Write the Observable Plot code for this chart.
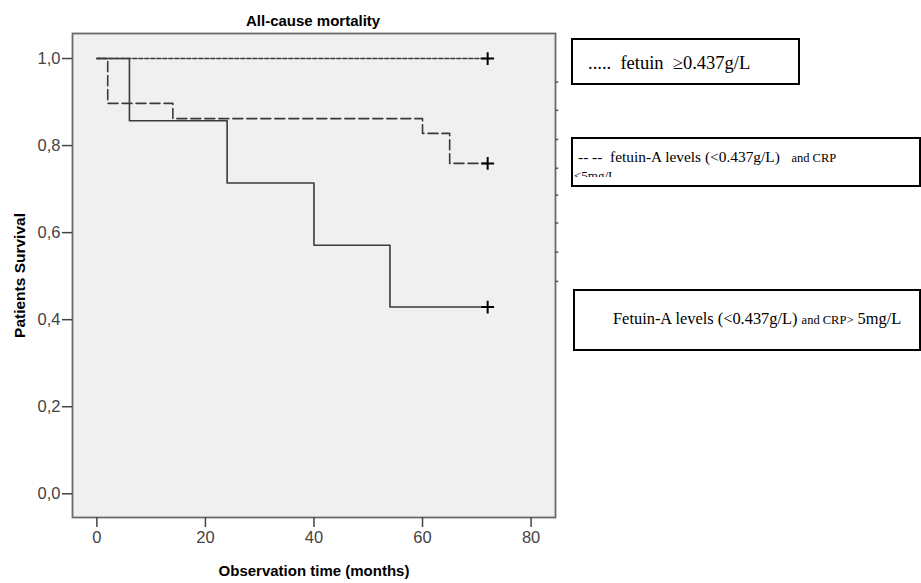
<!DOCTYPE html>
<html>
<head>
<meta charset="utf-8">
<script src="https://cdn.jsdelivr.net/npm/d3@7"></script>
<script src="https://cdn.jsdelivr.net/npm/@observablehq/plot@0.6"></script>
<style>
  html, body { margin: 0; padding: 0; background: #ffffff; }
  #wrap { position: relative; width: 921px; height: 583px; overflow: hidden; background: #fff; }
  #chart { position: absolute; left: 0; top: 0; }
  .title { position: absolute; font-family: "Liberation Sans", Arial, sans-serif; font-weight: bold; font-size: 15px; line-height: 1; color: #000; white-space: nowrap; }
  .box { position: absolute; box-sizing: border-box; border: 2px solid #000; background: #fff; }
  .lt { position: absolute; font-family: "Liberation Serif", "Times New Roman", serif; line-height: 1; color: #000; white-space: pre; }
  .clip { position: absolute; overflow: hidden; }
</style>
</head>
<body>
<div id="wrap">
  <div id="chart"></div>
  <div class="title" id="title">All-cause mortality</div>

  <div class="box" style="left:571px; top:38px; width:229px; height:47px;"></div>
  <div class="lt" style="left:588px; top:53.8px; font-size:18.5px;">.....  fetuin  ≥0.437g/L</div>

  <div class="box" style="left:571px; top:137px; width:350px; height:50px;"></div>
  <div class="clip" style="left:573px; top:139px; width:346px; height:37.7px;">
    <div class="lt" style="left:5px; top:9.8px; font-size:15.4px;">-- --  fetuin-A levels (&lt;0.437g/L)   <span style="font-size:12.5px">and CRP</span></div>
    <div class="lt" style="left:1px; top:30.4px; font-size:13px;">&lt;5mg/L</div>
  </div>

  <div class="box" style="left:573px; top:289px; width:348px; height:62px;"></div>
  <div class="lt" style="left:613px; top:311.3px; font-size:16.4px;">Fetuin-A levels (&lt;0.437g/L) <span style="font-size:12.5px">and CRP&gt;</span> 5mg/L</div>
</div>
<script>
// ---- data ----
const xTicks = [0, 20, 40, 60, 80];
const yTicks = [0, 0.2, 0.4, 0.6, 0.8, 1.0];

const seriesNames = ["fetuin ≥0.437g/L", "fetuin-A <0.437g/L and CRP <5mg/L", "Fetuin-A <0.437g/L and CRP >5mg/L"];

const timeHigh = [0, 72];
const survHigh = [1.0, 1.0];

const timeLowCrpLow = [0, 2, 14, 60, 65, 72];
const survLowCrpLow = [1.0, 0.897, 0.862, 0.828, 0.759, 0.759];

const timeLowCrpHigh = [0, 6, 24, 40, 54, 72];
const survLowCrpHigh = [1.0, 0.857, 0.714, 0.571, 0.429, 0.429];

const censorTime = [72, 72, 72];
const censorSurv = [1.0, 0.759, 0.429];

const sideTicks = [0.946, 0.881, 0.814, 0.748, 0.686, 0.622, 0.555, 0.488];

// ---- build ----
const mk = (name, t, s) => t.map((d, i) => ({series: name, time: d, surv: s[i]}));
const dHigh = mk(seriesNames[0], timeHigh, survHigh);
const dLL = mk(seriesNames[1], timeLowCrpLow, survLowCrpLow);
const dLH = mk(seriesNames[2], timeLowCrpHigh, survLowCrpHigh);
const censors = censorTime.map((t, i) => ({time: t, surv: censorSurv[i]}));

const xDomain = [-4.49, 84.5];
const yDomain = [-0.0545, 1.0575];
const fmt = d => d.toFixed(1).replace(".", ",");
const tickFont = "'Liberation Sans Narrow', 'Liberation Sans', Arial, sans-serif";
const lineColor = "#3a3a3a";

const plot = Plot.plot({
  width: 921,
  height: 583,
  marginLeft: 72,
  marginRight: 366,
  marginTop: 33,
  marginBottom: 66,
  style: {fontFamily: "'Liberation Sans', Arial, sans-serif", background: "transparent", color: "#000"},
  x: {domain: xDomain},
  y: {domain: yDomain},
  marks: [
    Plot.frame({fill: "#f0f0f0", stroke: "#6a6a6a", strokeWidth: 1.8}),
    Plot.axisX(xTicks, {
      tickSize: 10, tickPadding: 4, stroke: "#444", strokeWidth: 1.5,
      fill: "#444", fontSize: 16.5, fontFamily: tickFont,
      label: null
    }),
    Plot.axisX({
      ticks: [], tickSize: 0, label: "Observation time (months)", labelAnchor: "center",
      labelOffset: 58, labelArrow: "none", fontSize: 15, fontWeight: "bold", fill: "#000"
    }),
    Plot.axisY(yTicks, {
      tickSize: 10, tickPadding: 2, stroke: "#444", strokeWidth: 1.5,
      fill: "#444", fontSize: 16.5, fontFamily: tickFont, tickFormat: fmt,
      label: null
    }),
    Plot.axisY({
      ticks: [], tickSize: 0, label: "Patients Survival", labelAnchor: "center",
      labelOffset: 59, labelArrow: "none", fontSize: 15.5, fontWeight: "bold", fill: "#000"
    }),
    Plot.ruleY(sideTicks, {y: d => d, x1: () => xDomain[1], x2: () => xDomain[1] + 0.6, stroke: "#555", strokeWidth: 1.5, clip: false}),
    Plot.line(dHigh, {x: "time", y: "surv", curve: "step-after", stroke: lineColor, strokeWidth: 1.6, strokeDasharray: "4,2"}),
    Plot.line(dLL, {x: "time", y: "surv", curve: "step-after", stroke: lineColor, strokeWidth: 1.6, strokeDasharray: "10,4"}),
    Plot.line(dLH, {x: "time", y: "surv", curve: "step-after", stroke: lineColor, strokeWidth: 1.6}),
    Plot.dot(censors, {x: "time", y: "surv", symbol: "plus", r: 4.2, stroke: "#000", strokeWidth: 2})
  ]
});
document.getElementById("chart").appendChild(plot);

// title centred over the plot frame
const title = document.getElementById("title");
title.style.left = (313 - title.offsetWidth / 2) + "px";
title.style.top = "13px";
</script>
</body>
</html>
